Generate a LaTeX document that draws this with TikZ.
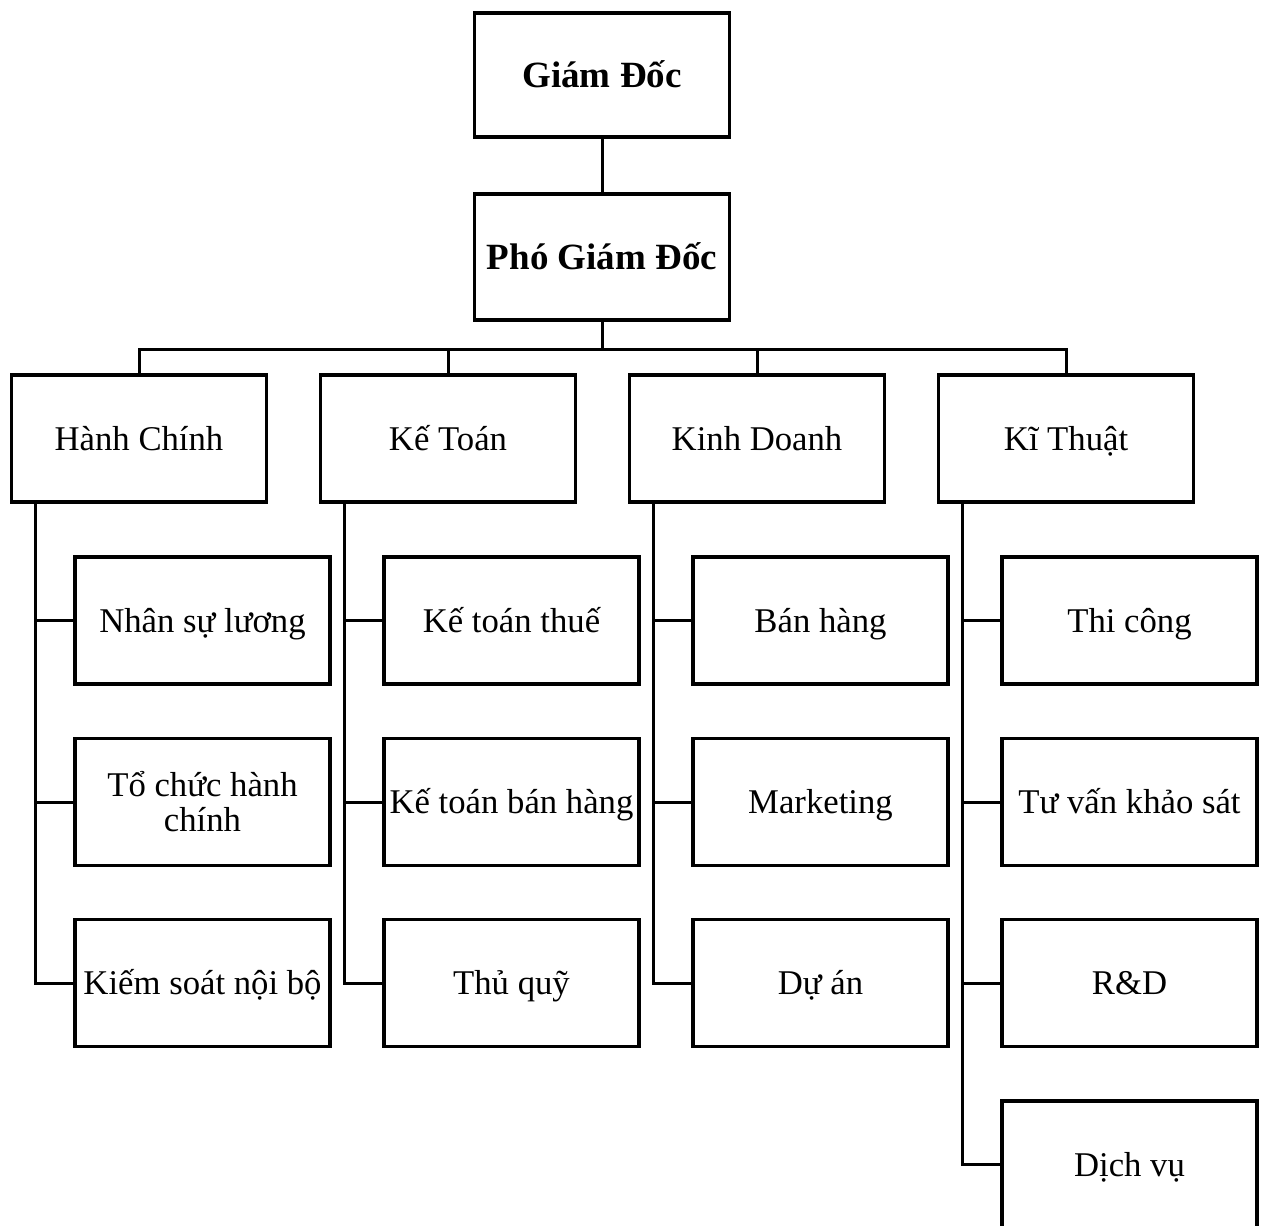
\documentclass[tikz,border=0pt]{standalone}
\usepackage{fontspec}
\setmainfont{Liberation Serif}
\usetikzlibrary{calc}
\begin{document}
\begin{tikzpicture}[x=1pt,y=1pt,
  box/.style={draw=black,line width=3.6pt,minimum width=255pt,minimum height=127pt,inner sep=0pt,align=center,font=\fontsize{34.7}{35}\selectfont,text height=23pt,text depth=0pt},
  twoline/.style={text height=,text depth=},
  topbox/.style={box,font=\fontsize{37}{40}\selectfont\bfseries,text height=25pt},
  conn/.style={draw=black,line width=3pt}]
\useasboundingbox (0,0) rectangle (1269,-1226);
\clip (0,0) rectangle (1269,-1226);
\fill[white] (0,0) rectangle (1269,-1226);
% top
\node[topbox,minimum height=124pt] (gd) at (602,-75) {Giám Đốc};
\node[topbox,minimum height=126pt] (pgd) at (602,-257) {Phó Giám Đốc};
% level 2
\node[box] (hc) at (139,-438.5) {Hành Chính};
\node[box] (kt) at (448,-438.5) {Kế Toán};
\node[box] (kd) at (757,-438.5) {Kinh Doanh};
\node[box] (kth) at (1066,-438.5) {Kĩ Thuật};
% children
\node[box] (hc1) at (202.5,-620.5) {Nhân sự lương};
\node[box,twoline] (hc2) at (202.5,-802) {Tổ chức hành\\chính};
\node[box] (hc3) at (202.5,-983) {Kiếm soát nội bộ};
\node[box] (kt1) at (511.5,-620.5) {Kế toán thuế};
\node[box] (kt2) at (511.5,-802) {Kế toán bán hàng};
\node[box] (kt3) at (511.5,-983) {Thủ quỹ};
\node[box] (kd1) at (820.5,-620.5) {Bán hàng};
\node[box] (kd2) at (820.5,-802) {Marketing};
\node[box] (kd3) at (820.5,-983) {Dự án};
\node[box] (kth1) at (1129.5,-620.5) {Thi công};
\node[box] (kth2) at (1129.5,-802) {Tư vấn khảo sát};
\node[box] (kth3) at (1129.5,-983) {R\&D};
\node[box] (kth4) at (1129.5,-1164.5) {Dịch vụ};
% connectors
\draw[conn] (gd.south) -- (pgd.north);
\foreach \n in {hc,kt,kd,kth}{
  \draw[conn] (pgd.south) -- ++(0,-28) -| (\n.north);
}
\coordinate (hcT) at ($(hc.south west)+(25.5,0)$);
\coordinate (ktT) at ($(kt.south west)+(25.5,0)$);
\coordinate (kdT) at ($(kd.south west)+(25.5,0)$);
\coordinate (kthT) at ($(kth.south west)+(25.5,0)$);
\draw[conn] (hcT) |- (hc3.west);
\draw[conn] (hcT |- hc1.west) -- (hc1.west);
\draw[conn] (hcT |- hc2.west) -- (hc2.west);
\draw[conn] (ktT) |- (kt3.west);
\draw[conn] (ktT |- kt1.west) -- (kt1.west);
\draw[conn] (ktT |- kt2.west) -- (kt2.west);
\draw[conn] (kdT) |- (kd3.west);
\draw[conn] (kdT |- kd1.west) -- (kd1.west);
\draw[conn] (kdT |- kd2.west) -- (kd2.west);
\draw[conn] (kthT) |- (kth4.west);
\draw[conn] (kthT |- kth1.west) -- (kth1.west);
\draw[conn] (kthT |- kth2.west) -- (kth2.west);
\draw[conn] (kthT |- kth3.west) -- (kth3.west);
\end{tikzpicture}
\end{document}
